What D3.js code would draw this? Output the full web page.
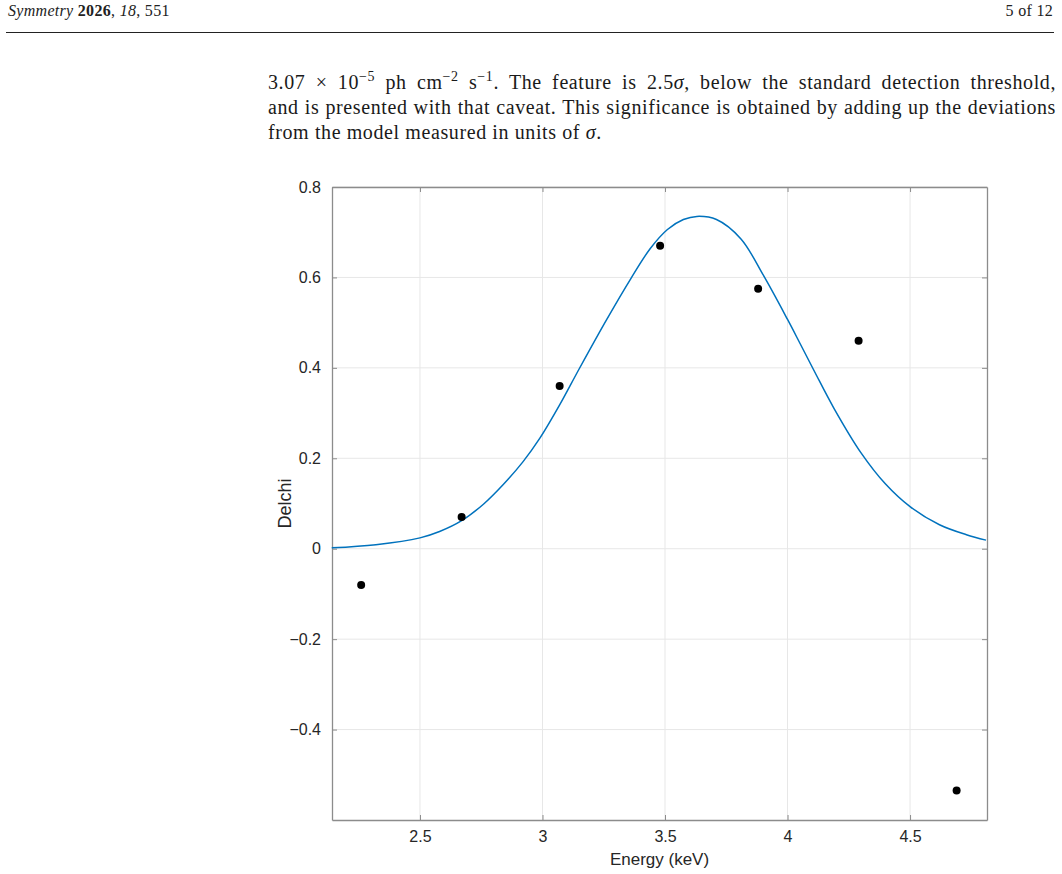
<!DOCTYPE html>
<html>
<head>
<meta charset="utf-8">
<script src="https://cdn.jsdelivr.net/npm/d3@7"></script>
<style>
  body { margin: 0; background: #fff; width: 1062px; height: 874px; overflow: hidden; }
  .hdr { position: absolute; top: 2px; font-family: "Liberation Serif", serif; font-size: 16px; letter-spacing: 0.3px; color: #222; }
  .rule { position: absolute; left: 6px; top: 32px; width: 1048px; height: 0; border-top: 1.3px solid #222; }
  .para { position: absolute; left: 268px; width: 788px; font-family: "Liberation Serif", serif; font-size: 20px; letter-spacing: 0.6px; color: #1a1a1a; }
  .line { height: 25px; white-space: nowrap; }
  .just { text-align: justify; text-align-last: justify; }
  sup { font-size: 14px; line-height: 0; vertical-align: 8px; }
  svg { position: absolute; left: 0; top: 0; }
</style>
</head>
<body>
<div class="hdr" style="left:8px"><i>Symmetry</i> <b>2026</b>, <i>18</i>, 551</div>
<div class="hdr" style="right:9px">5 of 12</div>
<div class="rule"></div>
<div class="para" style="top:71px">
  <div class="line just">3.07 × 10<sup>−5</sup> ph cm<sup>−2</sup> s<sup>−1</sup>. The feature is 2.5<i>σ</i>, below the standard detection threshold,</div>
  <div class="line just">and is presented with that caveat. This significance is obtained by adding up the deviations</div>
  <div class="line">from the model measured in units of <i>σ</i>.</div>
</div>
<svg id="chart" width="1062" height="874"></svg>
<script>
// observed deviations (keV, delchi)
var energy = [2.26, 2.67, 3.07, 3.48, 3.88, 4.29, 4.69];
var delchi = [-0.08, 0.07, 0.36, 0.67, 0.575, 0.46, -0.535];

// model line
var curveE = [2.14, 2.32, 2.50, 2.58, 2.67, 2.76, 2.84, 2.92, 2.99, 3.07, 3.15, 3.26, 3.36, 3.44, 3.51, 3.575, 3.63,
              3.71, 3.81, 3.90, 4.00, 4.05, 4.11, 4.19, 4.30, 4.40, 4.50, 4.62, 4.73, 4.81];
var curveD = [0.002, 0.009, 0.024, 0.038, 0.062, 0.099, 0.142, 0.192, 0.245, 0.318, 0.398, 0.505, 0.597, 0.664, 0.706, 0.728, 0.735,
              0.728, 0.685, 0.606, 0.507, 0.455, 0.392, 0.310, 0.212, 0.143, 0.093, 0.053, 0.031, 0.019];

var xTicks = [2.5, 3, 3.5, 4, 4.5];
var yTicks = [-0.4, -0.2, 0, 0.2, 0.4, 0.6, 0.8];

// plot box (window.top is reserved, so use m_ names)
var m_left = 332, m_right = 987, m_top = 187, m_bottom = 820;

var svg = d3.select("#chart");

var x = d3.scaleLinear().domain([2.141, 4.814]).range([m_left, m_right]);
var y = d3.scaleLinear().domain([-0.6, 0.8]).range([m_bottom, m_top]);

var fmt = function(d) { return d < 0 ? "\u2212" + Math.abs(d) : String(d); };

// grid
var grid = svg.append("g").attr("stroke", "#e7e7e7").attr("stroke-width", 1);
grid.selectAll(".gx").data(xTicks).enter().append("line")
    .attr("x1", d => x(d)).attr("x2", d => x(d)).attr("y1", m_top).attr("y2", m_bottom);
grid.selectAll(".gy").data(yTicks).enter().append("line")
    .attr("y1", d => y(d)).attr("y2", d => y(d)).attr("x1", m_left).attr("x2", m_right);

// axes with inward ticks, mirrored on top and right
var axColor = "#8c8c8c";
var gb = svg.append("g").attr("transform", "translate(0," + m_bottom + ")")
    .call(d3.axisBottom(x).tickValues(xTicks).tickSizeInner(-5).tickSizeOuter(0).tickPadding(11).tickFormat(fmt));
var gt = svg.append("g").attr("transform", "translate(0," + m_top + ")")
    .call(d3.axisTop(x).tickValues(xTicks).tickSizeInner(-5).tickSizeOuter(0).tickFormat(""));
var gl = svg.append("g").attr("transform", "translate(" + m_left + ",0)")
    .call(d3.axisLeft(y).tickValues(yTicks).tickSizeInner(-5).tickSizeOuter(0).tickPadding(11).tickFormat(fmt));
var gr = svg.append("g").attr("transform", "translate(" + m_right + ",0)")
    .call(d3.axisRight(y).tickValues(yTicks).tickSizeInner(-5).tickSizeOuter(0).tickFormat(""));

[gb, gt, gl, gr].forEach(function(g) {
    g.attr("font-size", null).attr("font-family", null);
    g.select(".domain").attr("stroke", axColor).attr("stroke-width", 1.3);
    g.selectAll(".tick line").attr("stroke", axColor);
    g.selectAll("text").attr("fill", "#262626").style("font-family", "Liberation Sans, Arial, sans-serif").style("font-size", "16px");
});

// model curve
var line = d3.line()
    .x((d, i) => x(curveE[i]))
    .y(d => y(d))
    .curve(d3.curveCatmullRom.alpha(0.5));
svg.append("path").datum(curveD)
    .attr("d", line)
    .attr("fill", "none")
    .attr("stroke", "#0072BD")
    .attr("stroke-width", 1.5);

// data points
svg.append("g").selectAll("circle").data(delchi).enter().append("circle")
    .attr("cx", (d, i) => x(energy[i]))
    .attr("cy", d => y(d))
    .attr("r", 4)
    .attr("fill", "#000");

// labels
svg.append("text")
    .attr("x", (m_left + m_right) / 2).attr("y", 865)
    .attr("text-anchor", "middle")
    .style("font-family", "Liberation Sans, Arial, sans-serif").style("font-size", "17px").attr("fill", "#262626")
    .text("Energy (keV)");
svg.append("text")
    .attr("transform", "translate(291," + ((m_top + m_bottom) / 2) + ") rotate(-90)")
    .attr("text-anchor", "middle")
    .style("font-family", "Liberation Sans, Arial, sans-serif").style("font-size", "18px").attr("fill", "#262626")
    .text("Delchi");
</script>
</body>
</html>
